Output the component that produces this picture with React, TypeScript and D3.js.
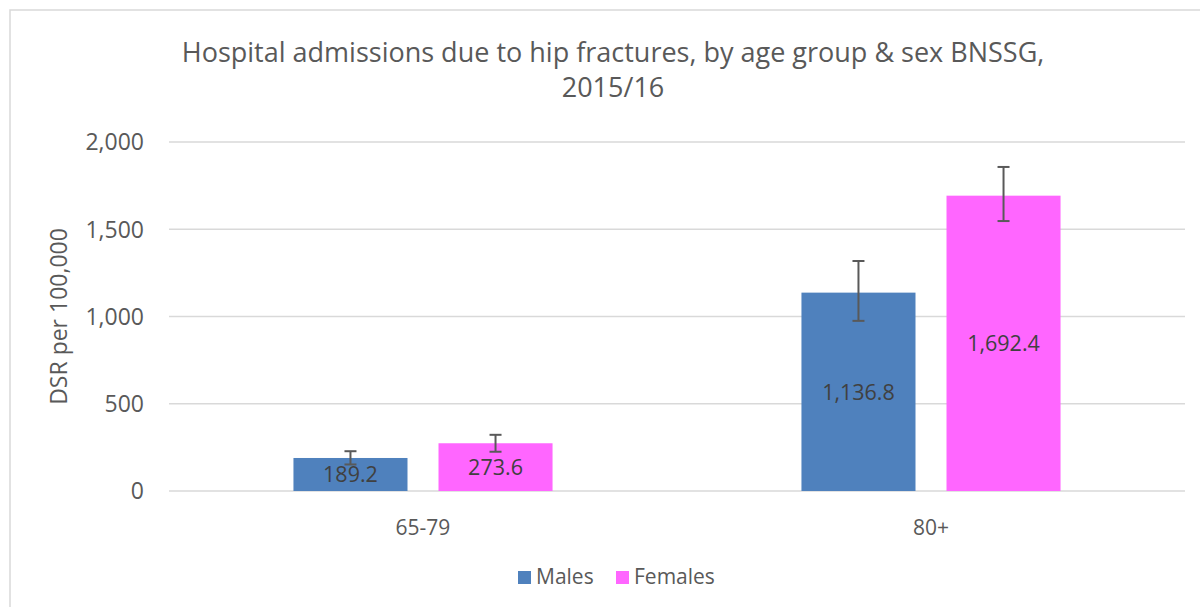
import React from "react";
import * as d3 from "d3";

const categories = ["65-79", "80+"];
const series = ["Males", "Females"];
const seriesColors = ["#4F81BD", "#FF66FF"];
const maleValues = [189.2, 1136.8];
const femaleValues = [273.6, 1692.4];
const maleLower = [152, 975];
const maleUpper = [228, 1318];
const femaleLower = [225, 1547];
const femaleUpper = [322, 1857];
const yTicks = [0, 500, 1000, 1500, 2000];
const titleLines = ["Hospital admissions due to hip fractures, by age group & sex BNSSG,", "2015/16"];
const yAxisTitle = "DSR per 100,000";

const W = 1200;
const H = 607;
const FONT = "'Open Sans', sans-serif";

export default function App() {
  const x0 = d3.scaleBand<string>().domain(categories).range([169, 1185]).paddingInner(0).paddingOuter(0);
  const x1 = d3
    .scaleBand<string>()
    .domain(series)
    .range([0, x0.bandwidth()])
    .paddingInner(31 / 145)
    .paddingOuter(0.858);
  const y = d3.scaleLinear().domain([0, 2000]).range([491, 142]);
  const fmtTick = d3.format(",");
  const fmtVal = d3.format(",.1f");

  const values = [maleValues, femaleValues];
  const lowers = [maleLower, femaleLower];
  const uppers = [maleUpper, femaleUpper];

  return (
    <svg width={W} height={H} style={{ position: "absolute", left: 0, top: 0, background: "#fff" }}>
      <rect x={10} y={10} width={1300} height={700} fill="#fff" stroke="#D9D9D9" strokeWidth={1.5} />
      <text x={613} y={62} textAnchor="middle" fontFamily={FONT} fontSize={27} fill="#595959">
        {titleLines.map((t, i) => (
          <tspan key={i} x={613} dy={i === 0 ? 0 : 35}>
            {t}
          </tspan>
        ))}
      </text>
      {yTicks.map((t) => (
        <g key={t}>
          <line x1={169} x2={1185} y1={y(t)} y2={y(t)} stroke="#D9D9D9" strokeWidth={1.5} />
          <text x={144} y={y(t)} dy="0.36em" textAnchor="end" fontFamily={FONT} fontSize={23} fill="#595959">
            {fmtTick(t)}
          </text>
        </g>
      ))}
      <text
        transform={`translate(67,${(y(0) + y(2000)) / 2}) rotate(-90)`}
        textAnchor="middle"
        fontFamily={FONT}
        fontSize={23}
        fill="#595959"
      >
        {yAxisTitle}
      </text>
      {categories.map((c, ci) => (
        <g key={c}>
          {series.map((s, si) => {
            const v = values[si][ci];
            const bx = (x0(c) as number) + (x1(s) as number);
            const bw = x1.bandwidth();
            const cx = bx + bw / 2;
            return (
              <g key={s}>
                <rect x={bx} y={y(v)} width={bw} height={y(0) - y(v)} fill={seriesColors[si]} />
                <line x1={cx} x2={cx} y1={y(uppers[si][ci])} y2={y(lowers[si][ci])} stroke="#595959" strokeWidth={2} />
                <line x1={cx - 6} x2={cx + 6} y1={y(uppers[si][ci])} y2={y(uppers[si][ci])} stroke="#595959" strokeWidth={2} />
                <line x1={cx - 6} x2={cx + 6} y1={y(lowers[si][ci])} y2={y(lowers[si][ci])} stroke="#595959" strokeWidth={2} />
                <text
                  x={cx}
                  y={(y(v) + y(0)) / 2}
                  dy="0.36em"
                  textAnchor="middle"
                  fontFamily={FONT}
                  fontSize={21.5}
                  fill="#404040"
                >
                  {fmtVal(v)}
                </text>
              </g>
            );
          })}
          <text
            x={(x0(c) as number) + x0.bandwidth() / 2}
            y={535}
            textAnchor="middle"
            fontFamily={FONT}
            fontSize={21}
            fill="#595959"
          >
            {c}
          </text>
        </g>
      ))}
      {series.map((s, si) => {
        const lx = si === 0 ? 518 : 616;
        return (
          <g key={s}>
            <rect x={lx} y={571} width={13} height={13} fill={seriesColors[si]} />
            <text x={lx + 18} y={584} fontFamily={FONT} fontSize={21} fill="#595959">
              {s}
            </text>
          </g>
        );
      })}
    </svg>
  );
}
